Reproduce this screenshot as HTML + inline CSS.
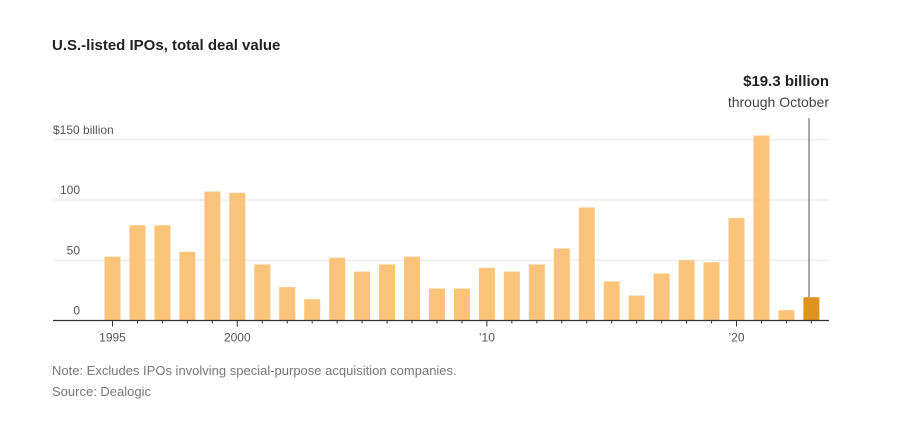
<!DOCTYPE html>
<html><head><meta charset="utf-8"><style>
body{margin:0;background:#fff;font-family:"Liberation Sans",sans-serif;}
svg text{font-family:"Liberation Sans",sans-serif;}
</style></head><body>
<svg width="906" height="416" xmlns="http://www.w3.org/2000/svg">
<text x="52" y="50" font-size="15" font-weight="bold" fill="#222">U.S.-listed IPOs, total deal value</text>
<g id="grid"></g>
<g id="bars"></g>
<g id="xaxis"></g>
<line x1="809" y1="118" x2="809" y2="297" stroke="#555" stroke-width="1" id="annoLine"/>
<text x="829" y="86" text-anchor="end" font-size="15" font-weight="bold" fill="#222">$19.3 billion</text>
<text x="829" y="107" text-anchor="end" font-size="14" fill="#444">through October</text>
<text x="52" y="375" font-size="13" fill="#777">Note: Excludes IPOs involving special-purpose acquisition companies.</text>
<text x="52" y="396" font-size="13" fill="#777">Source: Dealogic</text>
</svg>
<script>
const years=[1995,1996,1997,1998,1999,2000,2001,2002,2003,2004,2005,2006,2007,2008,2009,2010,2011,2012,2013,2014,2015,2016,2017,2018,2019,2020,2021,2022,2023];
const values=[53,79,79,57,107,106,46.5,27.7,17.7,52,40.6,46.5,53,26.5,26.5,43.7,40.6,46.5,59.8,93.8,32.4,20.7,39,50,48.3,85,153.5,8.6,19.3];
const yTicks=[0,50,100,150];
const yTickLabels=["0","50","100","$150 billion"];
const xLabelYears=[1995,2000,2010,2020];
const xLabels=["1995","2000","’10","’20"];
const NS="http://www.w3.org/2000/svg";
const y0=320.5,ppu=1.205,x0=112.5,step=24.96,bw=16;
const ys=v=>y0-v*ppu, xs=yr=>x0+(yr-1995)*step;
function mk(t,a,p){const e=document.createElementNS(NS,t);for(const k in a)e.setAttribute(k,a[k]);p.appendChild(e);return e;}
const grid=document.getElementById('grid');
yTicks.forEach((v,i)=>{
  if(v>0){const l=mk('line',{x1:53,x2:829,y1:ys(v),y2:ys(v),stroke:'#e6e6e6','stroke-width':1},grid);
  
  }
  const t=mk('text',{x:v===150?53:80,y:ys(v)-6,'font-size':12,fill:'#555','text-anchor':v===150?'start':'end'},grid);
  t.textContent=yTickLabels[i];
  
  
});
const bars=document.getElementById('bars');
years.forEach((yr,i)=>{
  const r=mk('rect',{x:xs(yr)-bw/2,y:ys(values[i]),width:bw,height:values[i]*ppu,fill:yr===2023?'#e0921e':'#fbc47a'},bars);
  
  
});
document.getElementById('annoLine').setAttribute('y2',ys(values[values.length-1]));
const xa=document.getElementById('xaxis');
const ax=mk('line',{x1:53,x2:829,y1:y0,y2:y0,stroke:'#333','stroke-width':1.2},xa);


years.forEach(yr=>{const major=xLabelYears.includes(yr);
  const t=mk('line',{x1:xs(yr),x2:xs(yr),y1:y0,y2:y0+(major?6:3),stroke:'#333','stroke-width':1},xa);
  
  });
xLabelYears.forEach((yr,i)=>{
  const t=mk('text',{x:xs(yr),y:y0+21,'font-size':12,fill:'#555','text-anchor':'middle'},xa);
  t.textContent=xLabels[i];
  
  
});
</script>
</body></html>
